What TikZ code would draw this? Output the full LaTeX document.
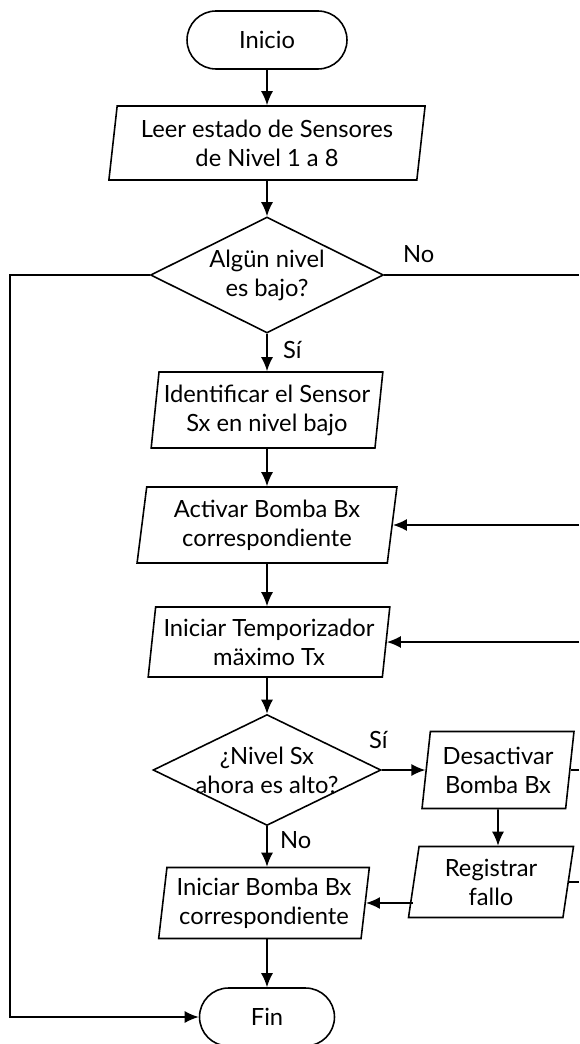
\documentclass[tikz,border=0pt]{standalone}
\usepackage{fontspec}
\setmainfont{Lato}
\usepackage{tikz}
\usetikzlibrary{shapes.geometric,arrows.meta}

\tikzset{
    base/.style={draw, line width=0.9pt, align=center, inner sep=1pt,
        font=\fontsize{13.5}{16.5}\selectfont},
    terminal/.style={base, rectangle, rounded corners=5.8mm, minimum height=1.16cm},
    iobox/.style={base, trapezium, trapezium left angle=82, trapezium right angle=98,
        trapezium stretches=true},
    decision/.style={base, diamond, aspect=2.2, inner sep=0pt},
    flow/.style={line width=0.9pt, -{Latex[length=2.8mm,width=2.4mm]}},
    plain/.style={line width=0.9pt},
    tag/.style={font=\fontsize{13.5}{15}\selectfont, inner sep=1pt}
}

\begin{document}
\begin{tikzpicture}[x=0.02cm, y=-0.02cm]
    \useasboundingbox (0,0) rectangle (579,1044);

    % main column
    \node[terminal, minimum width=3.2cm] (inicio) at (267,40) {Inicio};
    \node[iobox, minimum width=6.34cm, minimum height=1.48cm] (leer) at (267,143)
        {Leer estado de Sensores\\de Nivel 1 a 8};
    \node[decision, minimum width=4.66cm, minimum height=2.32cm] (decBajo) at (267,275)
        {Algün nivel\\es bajo?};
    \node[iobox, minimum width=4.64cm, minimum height=1.52cm] (ident) at (267,410)
        {Identificar el Sensor\\Sx en nivel bajo};
    \node[iobox, minimum width=5.2cm, minimum height=1.52cm] (activar) at (267,525)
        {Activar Bomba Bx\\correspondiente};
    \node[iobox, minimum width=4.84cm, minimum height=1.4cm] (temp) at (269,642)
        {Iniciar Temporizador\\mäximo Tx};
    \node[decision, inner xsep=-5pt, minimum width=4.48cm, minimum height=2.22cm] (decAlto)
        at (267,770) {¿Nivel Sx\\ahora es alto?};
    \node[iobox, minimum width=4.22cm, minimum height=1.42cm] (iniBomba) at (264,903)
        {Iniciar Bomba Bx\\correspondiente};
    \node[terminal, minimum width=2.7cm] (fin) at (267,1017) {Fin};

    % right column
    \node[iobox, minimum width=3.06cm, minimum height=1.54cm] (desact) at (498,770)
        {Desactivar\\Bomba Bx};
    \node[iobox, minimum width=3.32cm, minimum height=1.42cm] (regis) at (491,882)
        {Registrar\\fallo};

    % edges of the sheet
    \coordinate (lEdge) at (10,0);
    \coordinate (rEdge) at (579,0);

    % labels
    \node[tag, anchor=west] (noBajo) at (401,254) {No};
    \node[tag, anchor=west] (siBajo) at (281,350) {Sí};
    \node[tag, anchor=west] (siAlto) at (367,740) {Sí};
    \node[tag, anchor=west] (noAlto) at (278,840) {No};

    % connectors
    \draw[flow] (inicio) -- (leer);
    \draw[flow] (leer) -- (decBajo);
    \draw[flow] (decBajo) -- (ident);
    \draw[flow] (ident) -- (activar);
    \draw[flow] (activar.south) -- (activar.south |- temp.north);
    \draw[flow] (temp.south -| decAlto.north) -- (decAlto.north);
    \draw[flow] (decAlto) -- (desact);
    \draw[flow] (desact) -- (desact |- regis.north);
    \draw[flow] (decAlto.south) -- (decAlto.south |- iniBomba.north);
    \draw[flow] (iniBomba.south -| fin.north) -- (fin.north);
    \draw[flow] (iniBomba.east -| regis.west) -- (iniBomba.east);
    \draw[flow] (decBajo.west) -- (lEdge |- decBajo.west) |- (fin.west);

    % loops running off the right edge
    \draw[plain] (decBajo.east) -- (decBajo.east -| rEdge);
    \draw[flow] (rEdge |- activar.east) -- (activar.east);
    \draw[flow] (rEdge |- temp.east) -- (temp.east);
    \draw[plain] (desact.east) -- (desact.east -| rEdge);
    \draw[plain] (regis.east) -- (regis.east -| rEdge);
\end{tikzpicture}
\end{document}
